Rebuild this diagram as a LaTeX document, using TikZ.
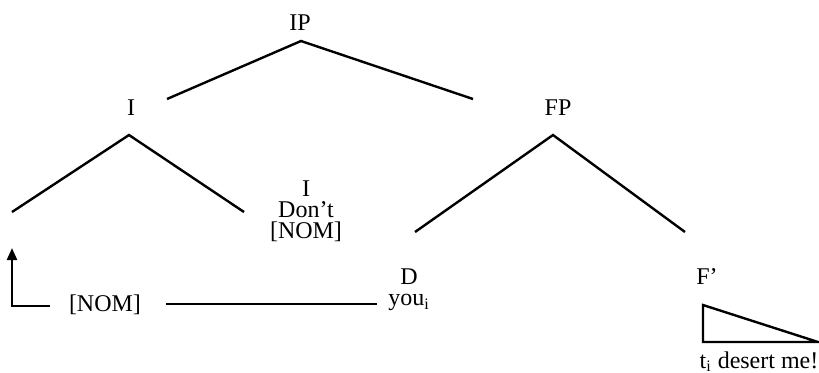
\documentclass[tikz,border=0pt]{standalone}
\usepackage{fontspec}
\setmainfont{Liberation Serif}
\usetikzlibrary{arrows.meta}
\tikzset{
	lbl/.style={inner sep=0pt, align=center, font=\fontsize{12}{10.6}\selectfont},
	branch/.style={draw, line width=1.2pt},
	move/.style={draw, line width=1.2pt, -{Triangle[length=6pt, width=5pt]}}
}

\begin{document}
\begin{tikzpicture}[x=0.5pt, y=-0.5pt]
	\useasboundingbox (0,0) rectangle (819,372);
	
	% Labels
	\node[lbl, anchor=base] (ip) at (300,30) {IP};
	\node[lbl, anchor=base] (i) at (131,115) {I};
	\node[lbl, anchor=base] (fp) at (558,115) {FP};
	\node[lbl] (ibar) at (306,211) {I\\Don't\\{[NOM]}};
	\node[lbl] (dyou) at (409,290) {D\\you\textsubscript{i}};
	\node[lbl, anchor=base] (fbar) at (707,284) {F'};
	\node[lbl, anchor=base] (nom) at (105,311) {[NOM]};
	\node[lbl, anchor=base] (tdes) at (759,368) {t\textsubscript{i} desert me!};
	
	% Branch ends
	\coordinate (ipt) at (301,41);
	\coordinate (it) at (129,135);
	\coordinate (fpt) at (553,135);
	\coordinate (il) at (12,212);
	\coordinate (ir) at (244,212);
	\coordinate (fl) at (415,232);
	\coordinate (fr) at (685,232);
	\coordinate (ipl) at (167,99);
	\coordinate (ipr) at (473,99);
	
	% Tree
	\draw[branch] (ipl) -- (ipt) -- (ipr);
	\draw[branch] (il) -- (it) -- (ir);
	\draw[branch] (fl) -- (fpt) -- (fr);
	
	% Triangle under F'
	\draw[branch] (703,305) -- (703,342) -- (818,342) -- cycle;
	
	% Movement of [NOM]
	\coordinate (nomfrom) at (50,306);
	\coordinate (nomto) at (12,248);
	\coordinate (dfrom) at (166,304);
	\coordinate (dto) at (377,304);
	\draw[move] (nomfrom) -- (nomfrom -| nomto) -- (nomto);
	\draw[branch] (dfrom) -- (dto);
	
\end{tikzpicture}
\end{document}
